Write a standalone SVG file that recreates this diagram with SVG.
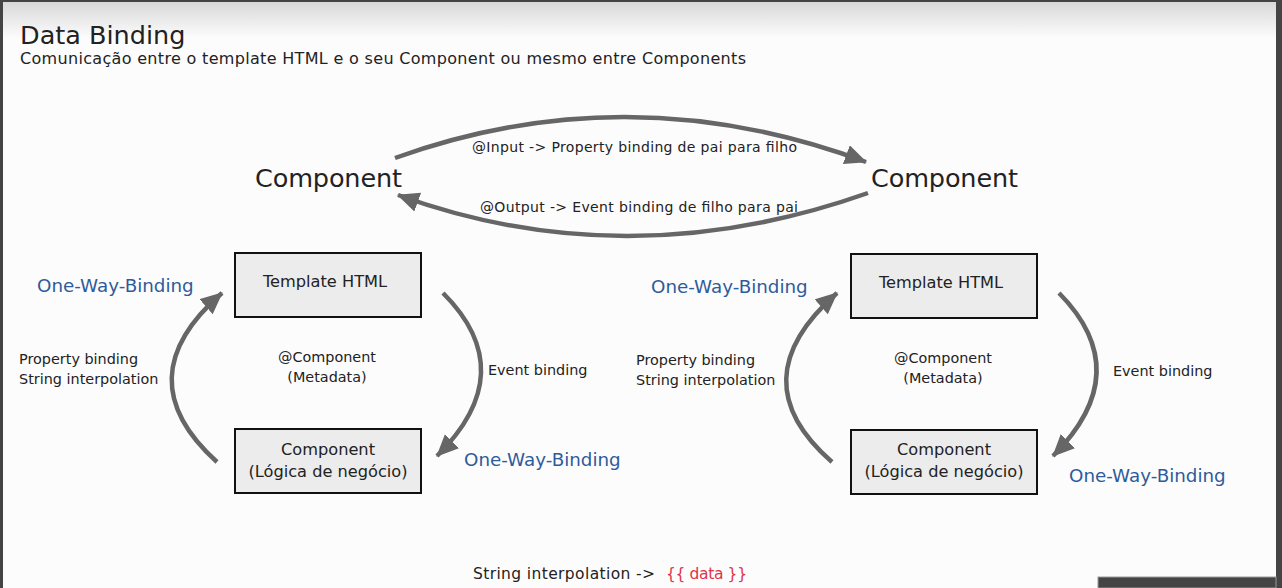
<svg xmlns="http://www.w3.org/2000/svg" width="1282" height="588" viewBox="0 0 1282 588">
<defs>
<linearGradient id="topg" x1="0" y1="0" x2="0" y2="1">
<stop offset="0" stop-color="#d9d9d9"/>
<stop offset="1" stop-color="#fdfcfd"/>
</linearGradient>
<marker id="ah" markerUnits="userSpaceOnUse" markerWidth="26" markerHeight="22" refX="21" refY="10" orient="auto">
<path d="M0,0 L22,10 L0,20 Z" fill="#666"/>
</marker>
<style>
text{font-family:"DejaVu Sans","Liberation Sans",sans-serif;fill:#222}
.blue{fill:#2e5b9a;font-size:18.3px}
.lbl{font-size:14.4px}
.box{fill:#ececec;stroke:#111;stroke-width:2}
.bt{font-size:16.2px;text-anchor:middle}
.arc{fill:none;stroke:#666;stroke-width:4.5;marker-end:url(#ah)}
.comp{font-size:25.5px}
</style>
</defs>
<rect x="0" y="0" width="1282" height="588" fill="#fdfcfd"/>
<rect x="3" y="2" width="1273" height="36" fill="url(#topg)"/>
<rect x="0" y="0" width="1282" height="2" fill="#444"/>
<rect x="0" y="0" width="3" height="588" fill="#444"/>
<rect x="1276" y="0" width="6" height="588" fill="#444"/>
<rect x="1098" y="577" width="178" height="11" fill="#444" stroke="#999" stroke-width="1"/>

<g id="title">
<text x="20" y="44" font-size="25.5">Data Binding</text>
<text x="20" y="64" font-size="16" textLength="726" lengthAdjust="spacing">Comunicação entre o template HTML e o seu Component ou mesmo entre Components</text>
</g>

<g id="component-left"><text class="comp" x="255" y="187" textLength="147" lengthAdjust="spacing">Component</text></g>
<g id="component-right"><text class="comp" x="871" y="187" textLength="147" lengthAdjust="spacing">Component</text></g>

<g id="left-template"><rect class="box" x="235" y="253" width="186" height="64"/><text class="bt" x="325" y="287">Template HTML</text></g>
<g id="left-component"><rect class="box" x="235" y="429" width="186" height="64"/><text class="bt" x="328" y="455">Component</text><text class="bt" x="328" y="477">(Lógica de negócio)</text></g>
<g id="right-template"><rect class="box" x="851" y="254" width="186" height="64"/><text class="bt" x="941" y="288">Template HTML</text></g>
<g id="right-component"><rect class="box" x="851" y="430" width="186" height="64"/><text class="bt" x="944" y="455">Component</text><text class="bt" x="944" y="477">(Lógica de negócio)</text></g>

<g id="connectors">
<path class="arc" d="M395,158 Q629,74 866,162"/>
<path class="arc" d="M868,193 Q627,278 398,195"/>
<path class="arc" d="M217,462 Q124,378 222,293"/>
<path class="arc" d="M443,293 Q522,372 437,456"/>
<path class="arc" d="M832,462 Q738,380 837,293"/>
<path class="arc" d="M1059,293 Q1137,372 1053,456"/>
</g>

<g id="labels">
<text class="lbl" x="472" y="152" font-size="14" style="font-size:14px" textLength="325" lengthAdjust="spacing">@Input -&gt; Property binding de pai para filho</text>
<text class="lbl" x="480" y="212" style="font-size:14px" textLength="318" lengthAdjust="spacing">@Output -&gt; Event binding de filho para pai</text>

<text class="blue" x="37" y="292">One-Way-Binding</text>
<text class="lbl" x="19" y="364">Property binding</text>
<text class="lbl" x="19" y="384">String interpolation</text>
<text class="lbl" x="327" y="362" text-anchor="middle">@Component</text>
<text class="lbl" x="327" y="382" text-anchor="middle">(Metadata)</text>
<text class="lbl" x="488" y="375">Event binding</text>
<text class="blue" x="464" y="466">One-Way-Binding</text>

<text class="blue" x="651" y="293">One-Way-Binding</text>
<text class="lbl" x="636" y="365">Property binding</text>
<text class="lbl" x="636" y="385">String interpolation</text>
<text class="lbl" x="943" y="363" text-anchor="middle">@Component</text>
<text class="lbl" x="943" y="383" text-anchor="middle">(Metadata)</text>
<text class="lbl" x="1113" y="376">Event binding</text>
<text class="blue" x="1069" y="482">One-Way-Binding</text>

<text x="473" y="579" font-size="15.5" textLength="182" lengthAdjust="spacing">String interpolation -&gt;</text>
<text x="666" y="579" font-size="15.5" style="fill:#e0334a" textLength="81" lengthAdjust="spacing">{{ data }}</text>
</g>
</svg>
